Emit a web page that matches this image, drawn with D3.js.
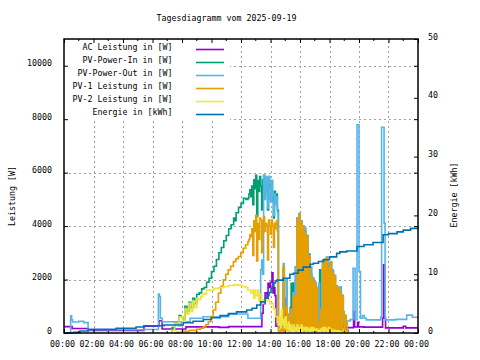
<!DOCTYPE html>
<html><head><meta charset="utf-8">
<script src="https://cdn.jsdelivr.net/npm/d3@7"></script>
<style>
html,body{margin:0;padding:0;background:#fff;}
svg{display:block;}
text{font-family:"DejaVu Sans Mono","Liberation Mono",monospace;font-size:8.3px;fill:#000;}
</style></head><body>
<svg id="chart" width="480" height="360"></svg>
<script>
// ---------- data ----------
const titleText = "Tagesdiagramm vom 2025-09-19";
const seriesNames = ["AC Leistung in [W]","PV-Power-In in [W]","PV-Power-Out in [W]","PV-1 Leistung in [W]","PV-2 Leistung in [W]","Energie in [kWh]"];
const seriesColors = ["#9400d3","#009e73","#56b4e9","#e69f00","#f0e442","#0072b2"];
const xTickHours = [0,2,4,6,8,10,12,14,16,18,20,22,24];
const yLeftTicks = [0,2000,4000,6000,8000,10000];
const yRightTicks = [0,10,20,30,40,50];

const acLeistung = [["00:00",240],["00:33",170],["01:38",100],["05:25",250],["06:26",460],["06:39",150],["08:16",230],["10:30",210],["11:10",240],["13:25",740],["13:30",1100],["13:38",1500],["13:46",1300],["13:50",1860],["13:54",1700],["14:00",1900],["14:06",2250],["14:10",1500],["14:14",1700],["14:18",1400],["14:22",250],["14:50",300],["15:03",1300],["15:07",280],["15:40",350],["15:50",250],["16:14",860],["16:18",260],["16:50",350],["17:00",250],["17:48",930],["17:52",270],["18:10",350],["18:20",250],["18:50",300],["19:00",200],["19:38",800],["19:42",230],["19:54",400],["19:58",230],["20:20",220],["21:36",560],["21:40",2550],["21:44",560],["21:48",190],["23:00",250],["23:10",190],["24:00",190]];

const pvPowerIn = [["07:16",0],["07:20",200],["07:30",400],["07:40",350],["07:48",650],["07:56",610],["08:04",500],["08:12",1000],["08:20",800],["08:28",1150],["08:36",950],["08:44",1300],["08:52",1100],["09:00",1450],["09:10",1500],["09:20",1650],["09:30",1700],["09:40",1900],["09:50",2050],["10:00",2300],["10:10",2500],["10:20",2750],["10:30",3000],["10:40",3200],["10:50",3450],["11:00",3650],["11:10",3900],["11:20",4050],["11:30",4300],["11:36",4200],["11:40",4500],["11:50",4700],["12:00",4850],["12:10",5040],["12:20",5000],
["12:28",5040],["12:32",5200],["12:36",5360],["12:40",5100],["12:44",5500],["12:48",4800],["12:52",5730],["12:56",5400],["13:00",5900],["13:04",4360],["13:08",5700],["13:12",5300],["13:16",5850],["13:20",5500],["13:24",4600],["13:28",5730],["13:32",5900],["13:36",5200],["13:40",5800],["13:44",5400],["13:48",4600],["13:52",5850],["13:56",5500],["14:00",5000],["14:04",5700],["14:08",5100],["14:12",4300],["14:16",5300],["14:20",4900],["14:24",5200],["14:28",4600],
["14:32",250],["14:36",200],["14:40",250],["14:44",350],["14:48",250],["14:52",2450],["14:56",250],["15:00",400],["15:04",1200],["15:08",250],["15:12",700],["15:16",200],["15:20",950],["15:24",1860],["15:28",800],["15:32",1870],["15:36",300],["15:40",1500],["15:44",200],["15:48",4300],["15:52",300],["15:56",4450],["16:00",300],["16:04",4200],["16:08",300],["16:12",3990],["16:16",200],["16:20",3800],["16:24",300],["16:28",3650],["16:32",200],["16:36",2950],["16:40",300],["16:44",2200],["16:48",200],["16:52",2050],["16:56",300],["17:00",1900],["17:04",200],["17:08",1700],["17:12",300],["17:16",500],["17:20",2360],["17:24",900],["17:28",200],["17:32",2650],["17:36",300],["17:40",2760],["17:44",200],["17:48",2830],["17:52",300],["17:56",2500],["18:00",200],["18:04",2650],["18:08",300],["18:12",2300],["18:16",200],["18:20",2150],["18:24",200],["18:28",1760],["18:32",200],["18:36",1700],["18:40",300],["18:44",1550],["18:48",200],["18:52",1400],["18:56",780],["19:00",200],["19:04",650],["19:08",400],["19:12",100],["19:16",0]];

const pvPowerOut = [["00:00",0],["00:27",640],["00:31",490],["00:35",410],["01:00",440],["01:20",390],["01:38",120],["05:25",130],["06:24",1460],["06:28",1360],["06:32",550],["06:40",420],["07:44",270],["07:56",420],["08:33",550],["09:25",610],["11:07",710],["12:28",550],["13:16",550],["13:20",2360],["13:24",2730],["13:28",2200],["13:32",5900],["13:36",5000],["13:40",5850],["13:44",5300],["13:48",4670],["13:52",5850],["13:56",5600],["14:00",4900],["14:04",5700],["14:08",4900],["14:12",4400],["14:16",5200],["14:20",4800],["14:24",5100],["14:28",4500],
["14:32",300],["14:36",250],["14:40",300],["14:44",400],["14:48",300],["14:52",2600],["14:56",300],["15:00",500],["15:04",1990],["15:08",300],["15:12",700],["15:16",250],["15:20",900],["15:24",300],["15:28",800],["15:32",1500],["15:36",400],["15:40",2480],["15:44",300],["15:48",4300],["15:52",400],["15:56",4480],["16:00",500],["16:04",4200],["16:08",600],["16:12",4000],["16:16",300],["16:20",3930],["16:24",400],["16:28",3650],["16:32",300],["16:36",2900],["16:40",400],["16:44",2480],["16:48",400],["16:52",2050],["16:56",400],["17:00",1900],["17:04",300],["17:08",1700],["17:12",400],["17:16",1860],["17:20",400],["17:24",900],["17:28",300],["17:32",2730],["17:36",400],["17:40",2760],["17:44",400],["17:48",2830],["17:52",500],["17:56",2620],["18:00",400],["18:04",2650],["18:08",400],["18:12",2360],["18:16",400],["18:20",2150],["18:24",300],["18:28",1760],["18:32",300],["18:36",1700],["18:40",400],["18:44",1730],["18:48",300],["18:52",1400],["18:56",800],["19:00",300],["19:04",650],["19:08",400],
["19:12",450],["19:24",500],["19:36",2420],["19:44",500],["19:52",7790],["20:00",2300],["20:06",550],["20:14",650],["20:22",550],["20:30",490],["21:28",600],["21:32",7700],["21:42",4110],["21:46",490],["22:30",510],["23:14",670],["23:37",590],["24:00",590]];

const pv1Leistung = [["07:32",0],["07:36",30],["08:00",60],["08:30",100],["09:00",140],["09:15",180],["09:27",240],["09:37",320],["09:47",420],["09:57",620],["10:07",860],["10:17",1150],["10:28",1490],["10:38",1750],["10:48",1990],["10:58",2200],["11:08",2360],["11:18",2500],["11:29",2670],["11:39",2780],["11:49",2860],["11:59",3000],["12:09",3170],["12:19",3300],
["12:28",3420],["12:32",3500],["12:36",3670],["12:40",3600],["12:44",3900],["12:48",2900],["12:52",4200],["12:56",3800],["13:00",4400],["13:04",2700],["13:08",4100],["13:12",3500],["13:16",4300],["13:20",4230],["13:24",3000],["13:28",4200],["13:32",4360],["13:36",3800],["13:40",4100],["13:44",4000],["13:48",2730],["13:52",4230],["13:56",4000],["14:00",3700],["14:04",4230],["14:08",4000],["14:12",3200],["14:16",4100],["14:20",3900],["14:24",4200],["14:28",3800],
["14:32",80],["14:36",50],["14:40",100],["14:44",200],["14:48",60],["14:52",2480],["14:56",100],["15:00",250],["15:04",1000],["15:08",100],["15:12",600],["15:16",80],["15:20",860],["15:24",100],["15:28",750],["15:32",1400],["15:36",100],["15:40",1360],["15:44",80],["15:48",4230],["15:52",100],["15:56",4420],["16:00",150],["16:04",4120],["16:08",100],["16:12",3980],["16:16",60],["16:20",3740],["16:24",100],["16:28",3610],["16:32",80],["16:36",2860],["16:40",100],["16:44",2110],["16:48",80],["16:52",1990],["16:56",100],["17:00",1860],["17:04",60],["17:08",1670],["17:12",100],["17:16",400],["17:20",100],["17:24",860],["17:28",80],["17:32",2610],["17:36",100],["17:40",2730],["17:44",80],["17:48",2800],["17:52",100],["17:56",2420],["18:00",80],["18:04",2620],["18:08",100],["18:12",2240],["18:16",80],["18:20",2110],["18:24",60],["18:28",1730],["18:32",80],["18:36",1670],["18:40",100],["18:44",1500],["18:48",60],["18:52",1360],["18:56",740],["19:00",80],["19:04",610],["19:08",360],["19:12",50],["19:16",0]];

const pv2Leistung = [["07:16",0],["07:20",100],["07:30",360],["07:40",300],["07:48",600],["07:56",610],["08:04",400],["08:12",900],["08:20",700],["08:28",1110],["08:36",800],["08:44",1200],["08:52",950],["09:00",1300],["09:08",1250],["09:16",1360],["09:24",1490],["09:32",1450],["09:40",1610],["09:56",1600],["10:10",1670],["10:30",1700],["10:50",1730],["11:10",1780],["11:30",1800],["11:50",1790],["12:00",1760],["12:10",1730],["12:20",1700],["12:28",1610],["12:40",1500],["12:48",1610],["12:52",1300],["12:56",1600],["13:00",1400],["13:08",1610],["13:12",1200],["13:16",1450],["13:24",1110],["13:32",1240],["13:40",1200],["13:48",1240],["13:56",1100],["14:04",1110],["14:12",900],["14:20",610],["14:28",400],
["14:32",300],["14:36",610],["14:40",200],["14:44",860],["14:48",300],["14:52",500],["14:56",200],["15:00",600],["15:04",300],["15:08",150],["15:12",400],["15:16",100],["15:20",300],["15:24",100],["15:28",200],["15:32",300],["15:36",100],["15:40",200],["15:44",100],["15:48",300],["15:52",100],["15:56",200],["16:00",100],["16:04",300],["16:08",100],["16:12",200],["16:16",100],["16:20",200],["16:24",100],["16:28",200],["16:32",100],["16:36",150],["16:40",100],["16:44",200],["16:48",100],["16:52",200],["16:56",100],["17:00",150],["17:04",100],["17:08",150],["17:12",100],["17:24",150],["17:28",100],["17:32",200],["17:36",100],["17:40",200],["17:44",100],["17:48",150],["17:52",100],["17:56",200],["18:00",100],["18:04",150],["18:08",100],["18:16",80],["18:20",100],["18:24",50],["18:28",80],["18:32",50],["18:36",80],["18:40",50],["18:48",30],["18:52",50],["18:56",30],["19:00",20],["19:08",0],["19:16",0]];

const energie = [["00:00",0],["00:40",0.1],["01:05",0.34],["01:38",0.63],["03:32",0.8],["04:53",1.02],["05:25",1.24],["06:47",1.36],["08:05",1.75],["08:45",2.0],["09:27",2.3],["10:00",2.6],["10:35",2.95],["11:10",3.3],["11:42",3.6],["12:23",3.9],["12:45",4.2],["13:04",4.75],["13:20",5.3],["13:38",5.9],["13:46",6.4],["13:54",6.9],["14:02",7.5],["14:08",8.0],["14:14",8.5],["14:20",8.8],["14:26",9.0],["14:52",9.3],["15:19",10.0],["15:33",10.15],["15:52",10.7],["16:13",11.2],["16:41",11.7],["16:54",11.85],["17:15",12.15],["17:35",12.45],["18:00",12.95],["18:29",13.55],["18:42",13.8],["19:10",13.95],["19:52",14.7],["20:20",15.0],["20:57",15.4],["21:38",16.7],["22:00",16.9],["22:35",17.2],["23:00",17.5],["23:30",17.8],["24:00",18.1]];

// ---------- chart ----------
const svg = d3.select("#chart");
const L = 64, R = 418, T = 39, B = 333;
const base = new Date(2025, 8, 19, 0, 0, 0);
const tp = s => { const [h, m] = s.split(":").map(Number); return new Date(base.getTime() + (h * 60 + m) * 60000); };
const hourDate = h => new Date(base.getTime() + h * 3600000);

const x = d3.scaleTime().domain([hourDate(0), hourDate(24)]).range([L, R]);
const yL = d3.scaleLinear().domain([0, 11000]).range([B, T]);
const yR = d3.scaleLinear().domain([0, 50]).range([B, T]);

svg.append("rect").attr("width", 480).attr("height", 360).attr("fill", "#fff");

// grid
const grid = svg.append("g").attr("stroke", "#a0a0a0").attr("stroke-width", 1).attr("stroke-dasharray", "2,3").attr("shape-rendering", "crispEdges");
xTickHours.filter(h => h > 0 && h < 24).forEach(h => {
  grid.append("line").attr("x1", Math.round(x(hourDate(h))) + 0.5).attr("x2", Math.round(x(hourDate(h))) + 0.5).attr("y1", B).attr("y2", T);
});
yLeftTicks.filter(v => v > 0).forEach(v => {
  grid.append("line").attr("y1", Math.round(yL(v)) + 0.5).attr("y2", Math.round(yL(v)) + 0.5).attr("x1", L).attr("x2", R);
});

// legend background (opaque key)
svg.append("rect").attr("x", L).attr("y", T).attr("width", 166).attr("height", 82).attr("fill", "#fff");

// series
const seriesData = [acLeistung, pvPowerIn, pvPowerOut, pv1Leistung, pv2Leistung, energie];
const plot = svg.append("g");
seriesData.forEach((data, i) => {
  const ys = i === 5 ? yR : yL;
  const line = d3.line().x(d => x(tp(d[0]))).y(d => ys(d[1])).curve(d3.curveStepAfter);
  plot.append("path").datum(data).attr("d", line).attr("fill", "none")
    .attr("stroke", seriesColors[i]).attr("stroke-width", 1.6).attr("stroke-linejoin", "miter");
});

// border
svg.append("rect").attr("x", L).attr("y", T).attr("width", R - L).attr("height", B - T)
  .attr("fill", "none").attr("stroke", "#000").attr("stroke-width", 1.5);

// axes
const axB = svg.append("g").attr("transform", `translate(0,${B})`)
  .call(d3.axisBottom(x).tickValues(xTickHours.map(hourDate)).tickFormat(d => d3.timeFormat("%H:%M")(d)).tickSizeInner(-4).tickSizeOuter(0).tickPadding(8));
axB.select(".domain").remove();
axB.selectAll("text").attr("y", 13.7).attr("dy", 0).attr("dx", -2).attr("font-size", null).attr("font-family", null);

const axT = svg.append("g").attr("transform", `translate(0,${T})`)
  .call(d3.axisTop(x).tickValues(xTickHours.map(hourDate)).tickFormat("").tickSizeInner(-4).tickSizeOuter(0));
axT.select(".domain").remove();

// minor hour ticks
const minor = svg.append("g").attr("stroke", "#000").attr("stroke-width", 1);
d3.range(1, 24, 2).forEach(h => {
  const xx = x(hourDate(h));
  minor.append("line").attr("x1", xx).attr("x2", xx).attr("y1", B).attr("y2", B - 2);
  minor.append("line").attr("x1", xx).attr("x2", xx).attr("y1", T).attr("y2", T + 2);
});

const axL = svg.append("g").attr("transform", `translate(${L},0)`)
  .call(d3.axisLeft(yL).tickValues(yLeftTicks).tickFormat(d3.format("d")).tickSizeInner(-4).tickSizeOuter(0).tickPadding(12));
axL.select(".domain").remove();
axL.selectAll("text").attr("dy", 0).attr("font-size", null).attr("font-family", null);

// mirrored y1 ticks on the right border
const axLm = svg.append("g").attr("transform", `translate(${R},0)`)
  .call(d3.axisRight(yL).tickValues(yLeftTicks).tickFormat("").tickSizeInner(-4).tickSizeOuter(0));
axLm.select(".domain").remove();

const axR = svg.append("g").attr("transform", `translate(${R},0)`)
  .call(d3.axisRight(yR).tickValues(yRightTicks).tickFormat(d3.format("d")).tickSizeInner(-4).tickSizeOuter(0).tickPadding(10));
axR.select(".domain").remove();
axR.selectAll("text").attr("dy", 0).attr("font-size", null).attr("font-family", null);

svg.selectAll(".tick line").attr("stroke-width", 1);

// titles
svg.append("text").attr("x", 226.5).attr("y", 21).attr("text-anchor", "middle").text(titleText);
svg.append("text").attr("transform", "translate(14.5,196) rotate(-90)").attr("text-anchor", "middle").text("Leistung [W]");
svg.append("text").attr("transform", "translate(457,195) rotate(-90)").attr("text-anchor", "middle").text("Energie [kWh]");

// legend
const leg = svg.append("g");
seriesNames.forEach((n, i) => {
  const yy = 49.5 + 13 * i;
  leg.append("text").attr("x", 172.5).attr("y", yy).attr("text-anchor", "end").text(n);
  leg.append("line").attr("x1", 196).attr("x2", 224).attr("y1", yy).attr("y2", yy)
    .attr("stroke", seriesColors[i]).attr("stroke-width", 1.6);
});
</script></body></html>
